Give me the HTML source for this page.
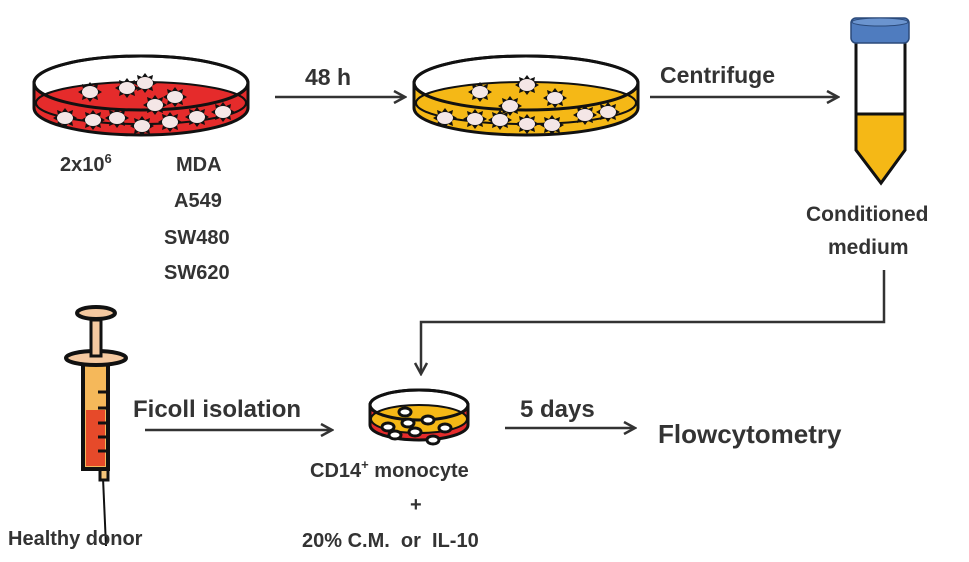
<!DOCTYPE html>
<html><head><style>
body{margin:0;background:#fff;width:969px;height:562px;overflow:hidden}
svg{display:block}
text{font-family:"Liberation Sans",sans-serif;font-weight:bold;fill:#333}
</style></head><body>
<svg width="969" height="562" viewBox="0 0 969 562">
<defs>
<marker id="ah" markerWidth="14" markerHeight="14" refX="12" refY="7" orient="auto" markerUnits="userSpaceOnUse">
<path d="M1,1 L12,7 L1,13" fill="none" stroke="#333" stroke-width="2.5"/></marker>
<g id="cell"><polygon points="0,-10 3,-6 8,-8 7,-3 12,0 7,3 8,8 3,6 0,10 -3,6 -8,8 -7,3 -12,0 -7,-3 -8,-8 -3,-6" fill="#111"/><ellipse rx="8" ry="6" fill="#f4e6e6"/></g>
</defs>
<!-- dish 1 -->
<g stroke="#111" stroke-width="3">
<path d="M34,83 L34,108 A107,27 0 0 0 248,108 L248,83" fill="#e52b2b"/>
<ellipse cx="141" cy="83" rx="107" ry="27" fill="#fff"/>
<ellipse cx="141" cy="103" rx="105" ry="21" fill="#e52b2b" stroke-width="2"/>
<ellipse cx="141" cy="83" rx="107" ry="27" fill="none"/>
</g>
<use href="#cell" x="90" y="92"/><use href="#cell" x="127" y="88"/><use href="#cell" x="145" y="83"/><use href="#cell" x="175" y="97"/><use href="#cell" x="155" y="105"/>
<use href="#cell" x="65" y="118"/><use href="#cell" x="93" y="120"/><use href="#cell" x="117" y="118"/><use href="#cell" x="142" y="126"/><use href="#cell" x="170" y="122"/><use href="#cell" x="197" y="117"/><use href="#cell" x="223" y="112"/>
<!-- dish 2 -->
<g stroke="#111" stroke-width="3">
<path d="M414,83 L414,108 A112,27 0 0 0 638,108 L638,83" fill="#f5b816"/>
<ellipse cx="526" cy="83" rx="112" ry="27" fill="#fff"/>
<ellipse cx="526" cy="103" rx="110" ry="21" fill="#f5b816" stroke-width="2"/>
<ellipse cx="526" cy="83" rx="112" ry="27" fill="none"/>
</g>
<use href="#cell" x="480" y="92"/><use href="#cell" x="527" y="85"/><use href="#cell" x="555" y="98"/><use href="#cell" x="510" y="106"/>
<use href="#cell" x="445" y="118"/><use href="#cell" x="475" y="119"/><use href="#cell" x="500" y="120"/><use href="#cell" x="527" y="124"/><use href="#cell" x="552" y="125"/><use href="#cell" x="585" y="115"/><use href="#cell" x="608" y="112"/>
<!-- tube -->
<g stroke="#111" stroke-width="3">
<path d="M856,42 L856,150 L881,183 L905,150 L905,42" fill="#fff"/>
<path d="M856,114 L905,114 L905,150 L881,183 L856,150 Z" fill="#f5b816"/>
<rect x="851" y="18" width="58" height="25" rx="5" fill="#4f7cbf" stroke="#2b4a7a" stroke-width="1.5"/>
<ellipse cx="880" cy="22" rx="28" ry="4" fill="#6b94cf" stroke="#2b4a7a" stroke-width="1"/>
</g>
<!-- dish 3 -->
<g stroke="#111" stroke-width="3">
<path d="M370,405 L370,425 A49,15 0 0 0 468,425 L468,405" fill="#e52b2b"/>
<ellipse cx="419" cy="405" rx="49" ry="15" fill="#fff"/>
<ellipse cx="419" cy="419" rx="48" ry="14" fill="#f5b816" stroke-width="2"/>
<ellipse cx="419" cy="405" rx="49" ry="15" fill="none"/>
</g>
<g fill="#fff" stroke="#111" stroke-width="3">
<ellipse cx="405" cy="412" rx="6" ry="4"/><ellipse cx="428" cy="420" rx="6" ry="4"/><ellipse cx="408" cy="423" rx="6" ry="4"/><ellipse cx="388" cy="427" rx="6" ry="4"/><ellipse cx="415" cy="432" rx="6" ry="4"/><ellipse cx="395" cy="435" rx="6" ry="4"/><ellipse cx="445" cy="428" rx="6" ry="4"/><ellipse cx="433" cy="440" rx="6" ry="4"/>
</g>
<!-- syringe -->
<g stroke="#111" stroke-width="4">
<line x1="103" y1="478" x2="106" y2="546" stroke-width="2"/>
<rect x="100" y="466" width="8" height="14" fill="#f5c57a" stroke-width="3"/>
<path d="M83,360 L83,469 L108,469 L108,360 Z" fill="#f5b85a"/>
<rect x="86" y="410" width="19" height="56" fill="#e64a2a" stroke="none"/>
<line x1="98" y1="392" x2="106" y2="392" stroke-width="3"/><line x1="98" y1="408" x2="106" y2="408" stroke-width="3"/><line x1="98" y1="423" x2="106" y2="423" stroke-width="3"/><line x1="98" y1="437" x2="106" y2="437" stroke-width="3"/><line x1="98" y1="451" x2="106" y2="451" stroke-width="3"/>
<ellipse cx="96" cy="358" rx="30" ry="7" fill="#f5c9a0"/>
<rect x="91" y="320" width="10" height="36" fill="#f5c9a0" stroke-width="3"/>
<ellipse cx="96" cy="313" rx="19" ry="6" fill="#f5c9a0"/>
</g>
<!-- arrows -->
<g stroke="#333" stroke-width="2.5" fill="none" marker-end="url(#ah)">
<line x1="275" y1="97" x2="405" y2="97"/>
<line x1="650" y1="97" x2="838" y2="97"/>
<polyline points="884,270 884,322 421,322 421,374"/>
<line x1="145" y1="430" x2="332" y2="430"/>
<line x1="505" y1="428" x2="635" y2="428"/>
</g>
<text x="305" y="85" font-size="23">48 h</text>
<text x="660" y="83" font-size="23">Centrifuge</text>
<text x="60" y="171" font-size="20">2x10<tspan font-size="13" dy="-8">6</tspan></text>
<text x="176" y="171" font-size="20">MDA</text>
<text x="174" y="207" font-size="20">A549</text>
<text x="164" y="244" font-size="20">SW480</text>
<text x="164" y="279" font-size="20">SW620</text>
<text x="806" y="221" font-size="21">Conditioned</text>
<text x="828" y="254" font-size="21">medium</text>
<text x="133" y="417" font-size="24">Ficoll isolation</text>
<text x="520" y="417" font-size="24">5 days</text>
<text x="658" y="443" font-size="26">Flowcytometry</text>
<text x="310" y="477" font-size="20">CD14<tspan font-size="13" dy="-8">+</tspan><tspan dy="8"> monocyte</tspan></text>
<text x="410" y="511" font-size="20">+</text>
<text x="302" y="547" font-size="20" xml:space="preserve">20% C.M.  or  IL-10</text>
<text x="8" y="545" font-size="20">Healthy donor</text>
</svg>
</body></html>
